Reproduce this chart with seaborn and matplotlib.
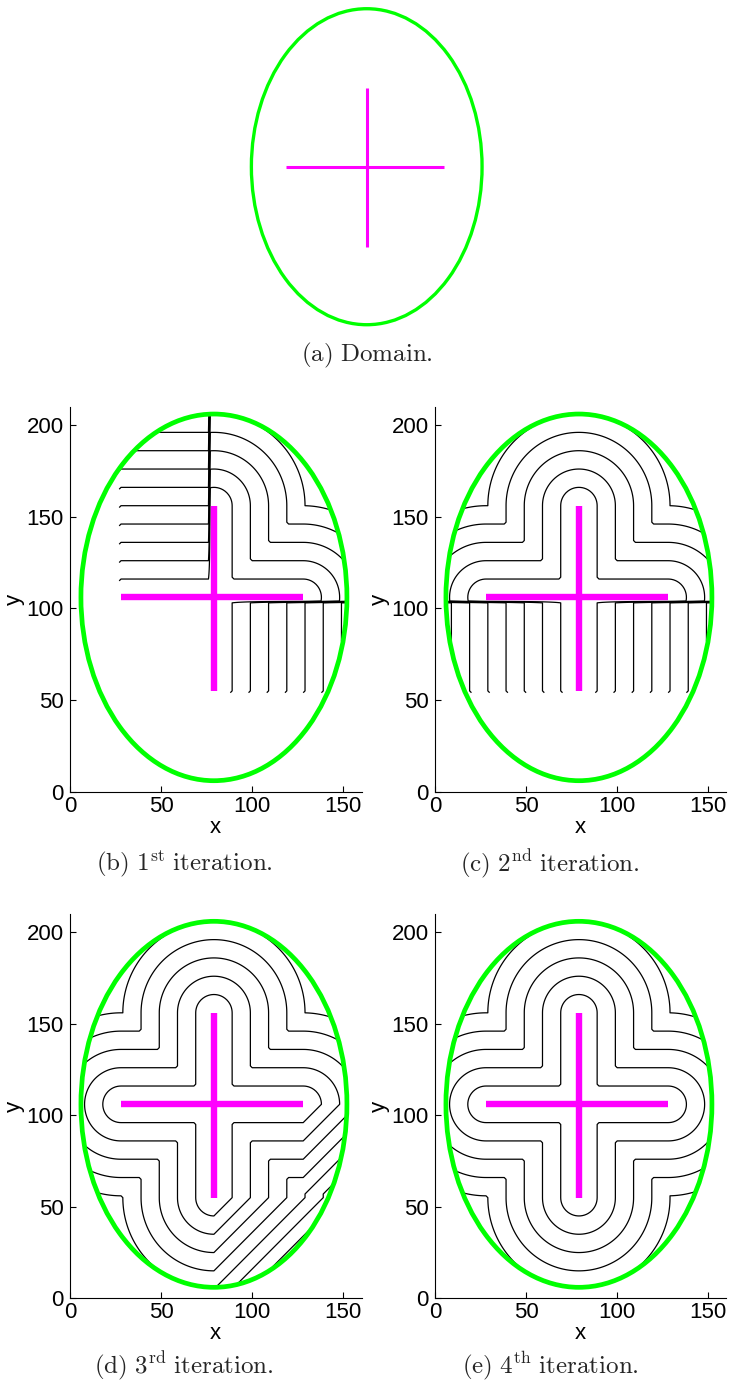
import numpy as np
import pandas as pd
import matplotlib
matplotlib.use("Agg")
import matplotlib.pyplot as plt
from matplotlib.patches import Ellipse
import seaborn as sns

# ---- geometry of the domain -------------------------------------------------
ellipse_center = [79.0, 106.0]          # (x, y)
ellipse_semi_axes = [73.0, 100.0]       # (a, b)
arm_horizontal = [[28.0, 106.0], [128.0, 106.0]]
arm_vertical = [[79.0, 55.0], [79.0, 156.0]]

# subdomain interfaces used by the sweeping iterations
split_x = 76.5
split_y = 103.5
cut_low_y = 53.5     # lower limit of the partially computed lower strips
cut_left_x = 26.5    # left limit of the partially computed upper-left block

# iso-distance levels
levels = [10, 20, 30, 40, 50, 60, 70, 80, 90, 100, 110, 120, 130, 140, 150]

x_ticks = [0, 50, 100, 150]
y_ticks = [0, 50, 100, 150, 200]
x_limits = [0, 160]
y_limits = [0, 210]

captions = [
    r"$\mathrm{(a)\ Domain.}$",
    r"$\mathrm{(b)\ 1^{st}\ iteration.}$",
    r"$\mathrm{(c)\ 2^{nd}\ iteration.}$",
    r"$\mathrm{(d)\ 3^{rd}\ iteration.}$",
    r"$\mathrm{(e)\ 4^{th}\ iteration.}$",
]

GREEN = "#00ff00"
MAGENTA = "#ff00ff"

# ---- distance fields on the grid --------------------------------------------
gx = np.arange(0, 161, 1.0)
gy = np.arange(0, 211, 1.0)
X, Y = np.meshgrid(gx, gy)


def seg_dist(X, Y, p0, p1):
    p0 = np.asarray(p0); p1 = np.asarray(p1)
    d = p1 - p0
    t = ((X - p0[0]) * d[0] + (Y - p0[1]) * d[1]) / (d @ d)
    t = np.clip(t, 0, 1)
    return np.hypot(X - (p0[0] + t * d[0]), Y - (p0[1] + t * d[1]))


(hx0, hy), (hx1, _) = arm_horizontal
(vx, vy0), (_, vy1) = arm_vertical

d_true = np.minimum(seg_dist(X, Y, *arm_horizontal), seg_dist(X, Y, *arm_vertical))
l1_h = np.maximum.reduce([np.zeros_like(X), hx0 - X, X - hx1]) + np.abs(Y - hy)
l1_v = np.abs(X - vx) + np.maximum.reduce([np.zeros_like(Y), vy0 - Y, Y - vy1])
l1_all = np.minimum(l1_h, l1_v)

inside = ((X - ellipse_center[0]) / ellipse_semi_axes[0]) ** 2 + \
         ((Y - ellipse_center[1]) / ellipse_semi_axes[1]) ** 2 <= 1.0

# 1st iteration
f1 = np.full_like(X, np.nan)
tl = (X < split_x) & (Y >= split_y) & (X >= cut_left_x)
tr = (X >= split_x) & (Y >= split_y)
br = (X >= split_x) & (Y < split_y) & (Y >= cut_low_y)
f1[tl] = l1_h[tl]
f1[tr] = d_true[tr]
f1[br] = l1_v[br]

# 2nd iteration
f2 = np.full_like(X, np.nan)
top = Y >= split_y
bot = (Y < split_y) & (Y >= cut_low_y)
f2[top] = d_true[top]
f2[bot] = l1_v[bot]

# 3rd iteration
f3 = d_true.copy()
br3 = (X >= vx) & (Y < hy)
f3[br3] = l1_all[br3]

# 4th iteration
f4 = d_true.copy()

fields = [f1, f2, f3, f4]
fields = [np.where(inside, f, np.nan) for f in fields]

# ---- figure -----------------------------------------------------------------
sns.set_theme(style="white")
plt.rcParams["font.family"] = ["Liberation Sans", "DejaVu Sans"]
plt.rcParams["mathtext.fontset"] = "cm"

W, H = 729, 1387
fig = plt.figure(figsize=(W / 100, H / 100), dpi=100)


def px_axes(left, top, right, bottom):
    return fig.add_axes([left / W, 1 - bottom / H, (right - left) / W, (bottom - top) / H])


def draw_domain(ax, ell_lw, arm_lw):
    for arm in (arm_horizontal, arm_vertical):
        seg = pd.DataFrame(arm, columns=["x", "y"])
        sns.lineplot(data=seg, x="x", y="y", ax=ax, color=MAGENTA, lw=arm_lw,
                     sort=False, estimator=None, zorder=3, solid_capstyle="butt")
    ax.add_patch(Ellipse(ellipse_center, 2 * ellipse_semi_axes[0], 2 * ellipse_semi_axes[1],
                         fill=False, edgecolor=GREEN, lw=ell_lw, zorder=4))


CAP_SIZE = 18
TICK_SIZE = 16

# (a) domain
ax0 = px_axes(241.9, 2.4, 241.9 + 160 * 1.58, 2.4 + 210 * 1.58)
draw_domain(ax0, 2.4, 2.2)
ax0.set_xlim(x_limits)
ax0.set_ylim(y_limits)
ax0.set_axis_off()
fig.text(367 / W, 1 - 355 / H, captions[0], ha="center", va="center", fontsize=CAP_SIZE)

# (b)-(e) iterations
boxes = [
    (70, 406.7, 361.5, 791.7),
    (435, 406.7, 726.5, 791.7),
    (70, 914.0, 361.5, 1298.3),
    (435, 914.0, 726.5, 1298.3),
]
cap_pos = [(184, 864), (550, 864), (184, 1366), (550, 1366)]

for f, box, cap, (cx, cy) in zip(fields, boxes, captions[1:], cap_pos):
    ax = px_axes(*box)
    ax.contour(X, Y, f, levels=levels, colors="black", linewidths=0.9, zorder=2)
    draw_domain(ax, 3.4, 4.6)
    ax.set_xlim(x_limits)
    ax.set_ylim(y_limits)
    ax.set_xticks(x_ticks)
    ax.set_yticks(y_ticks)
    ax.set_xticklabels([str(t) for t in x_ticks])
    ax.set_yticklabels([str(t) for t in y_ticks])
    ax.tick_params(direction="in", length=4, width=0.8, labelsize=TICK_SIZE,
                   colors="black", bottom=True, left=True)
    ax.tick_params(axis="x", pad=3)
    ax.tick_params(axis="y", pad=4.5)
    ax.set_xlabel("x", fontsize=TICK_SIZE, labelpad=0, color="black")
    ax.set_ylabel("y", fontsize=TICK_SIZE, labelpad=1, color="black")
    sns.despine(ax=ax)
    for s in ("left", "bottom"):
        ax.spines[s].set_color("black")
        ax.spines[s].set_linewidth(0.8)
    fig.text(cx / W, 1 - cy / H, cap, ha="center", va="center", fontsize=CAP_SIZE)

fig.savefig("out.png", dpi=100, facecolor="white")
